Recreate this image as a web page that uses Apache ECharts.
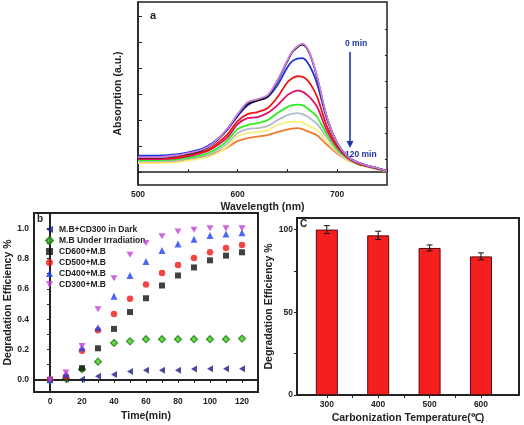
<!DOCTYPE html>
<html><head><meta charset="utf-8">
<script src="https://cdn.jsdelivr.net/npm/echarts@6/dist/echarts.min.js"></script>
<style>html,body{margin:0;padding:0;background:#fff}#c{width:524px;height:425px}</style>
</head><body><div id="c"></div>
<script>
// ---------- Panel a: absorption spectra ----------
const wavelengths = [500,520,540,560,570,580,590,600,610,620,630,640,650,655,660,665,670,675,680,690,700,710,720,730,740,750];
const spec0   = [0.115,0.115,0.131,0.162,0.192,0.254,0.338,0.446,0.538,0.562,0.592,0.708,0.862,0.931,0.969,0.990,0.954,0.862,0.731,0.415,0.223,0.123,0.077,0.050,0.031,0.008];
const spec15  = [0.112,0.112,0.128,0.158,0.188,0.248,0.332,0.440,0.525,0.550,0.580,0.700,0.855,0.925,0.962,0.982,0.948,0.856,0.725,0.412,0.222,0.122,0.077,0.050,0.031,0.008];
const spec30  = [0.127,0.127,0.138,0.169,0.200,0.254,0.331,0.431,0.515,0.554,0.577,0.669,0.808,0.854,0.873,0.877,0.846,0.777,0.677,0.400,0.223,0.123,0.077,0.050,0.031,0.008];
const spec45  = [0.108,0.108,0.115,0.146,0.169,0.223,0.292,0.392,0.446,0.462,0.492,0.577,0.692,0.723,0.738,0.735,0.708,0.654,0.577,0.346,0.200,0.115,0.069,0.046,0.027,0.008];
const spec60  = [0.100,0.100,0.108,0.138,0.162,0.208,0.269,0.369,0.415,0.423,0.454,0.515,0.592,0.615,0.627,0.619,0.592,0.554,0.500,0.315,0.192,0.112,0.069,0.046,0.027,0.008];
const spec75  = [0.092,0.092,0.100,0.123,0.146,0.185,0.246,0.331,0.362,0.377,0.400,0.454,0.500,0.515,0.519,0.515,0.492,0.462,0.423,0.285,0.177,0.108,0.065,0.046,0.027,0.008];
const spec90  = [0.085,0.085,0.092,0.115,0.131,0.169,0.223,0.300,0.331,0.338,0.354,0.400,0.438,0.450,0.454,0.446,0.427,0.400,0.369,0.262,0.162,0.100,0.062,0.042,0.023,0.008];
const spec105 = [0.069,0.069,0.077,0.100,0.115,0.146,0.200,0.277,0.300,0.308,0.323,0.362,0.385,0.388,0.388,0.381,0.362,0.342,0.323,0.231,0.154,0.092,0.058,0.038,0.023,0.004];
const spec120 = [0.077,0.077,0.085,0.108,0.123,0.154,0.192,0.238,0.262,0.273,0.285,0.308,0.327,0.335,0.338,0.331,0.315,0.300,0.281,0.208,0.142,0.092,0.062,0.042,0.023,0.004];
const specColors = ['#cc80e0','#111111','#2030dd','#ee1515','#e0106a','#33ee22','#b4bccc','#f4ee80','#f07a30'];
const specList = [spec0,spec15,spec30,spec45,spec60,spec75,spec90,spec105,spec120];
const absTicksMajor = [0,0.2,0.4,0.6,0.8,1.0,1.2];
const absTicksMinor = [0.1,0.3,0.5,0.7,0.9,1.1];

// ---------- Panel b: degradation kinetics ----------
const times = [0,10,20,30,40,50,60,70,80,90,100,110,120];
const darkCD300 = [0,0.004,0.004,0.024,0.035,0.055,0.064,0.064,0.064,0.071,0.073,0.073,0.073];
const mbIrr     = [0,0.008,0.07,0.12,0.243,0.254,0.268,0.268,0.268,0.268,0.268,0.268,0.272];
const cd600     = [0,0.015,0.077,0.208,0.336,0.447,0.538,0.622,0.688,0.741,0.788,0.819,0.841];
const cd500     = [0,0.022,0.192,0.327,0.434,0.535,0.628,0.704,0.757,0.803,0.841,0.869,0.889];
const cd400     = [0,0.038,0.212,0.343,0.551,0.688,0.781,0.852,0.896,0.927,0.951,0.962,0.969];
const cd300     = [0,0.049,0.223,0.465,0.670,0.825,0.903,0.947,0.978,0.989,1.0,1.0,1.0];
const kinNames = ['M.B+CD300 in Dark','M.B Under Irradiation','CD600+M.B','CD500+M.B','CD400+M.B','CD300+M.B'];
const bYLabels = [0,0.2,0.4,0.6,0.8,1.0];
const bYTicks = [0,0.1,0.2,0.3,0.4,0.5,0.6,0.7,0.8,0.9,1.0];

// ---------- Panel c: efficiency vs carbonization temperature ----------
const temps = [300,400,500,600];
const efficiency = [100,96.5,88.9,83.8];
const effErr = [2.4,2.5,1.8,2.1];
const cYLabels = [0,50,100];
const cYTicks = [0,25,50,75,100];
const cXTicks = [300,350,400,450,500,550,600];

const FONT = 'Liberation Sans';
const ink = '#222';

function specSeries(vals, color, z){
  return {type:'line', xAxisIndex:0, yAxisIndex:0, data: wavelengths.map((w,i)=>[w,vals[i]]),
    smooth:0.35, showSymbol:false, lineStyle:{color:color,width:1.8}, z:z, silent:true};
}
const specOrder = [8,7,6,5,4,3,2,1,0];
const seriesA = specOrder.map((k,j)=>specSeries(specList[k], specColors[k], 2+j));

const kinData = [darkCD300,mbIrr,cd600,cd500,cd400,cd300];
const kinStyle = [
  {symbol:'path://M10,0 L10,10 L0,5 Z', color:'#1c1c8a', size:[6,7]},
  {symbol:'diamond', color:'#44cc22', border:'#1f7a10', size:7},
  {symbol:'rect', color:'#111', size:6},
  {symbol:'circle', color:'#f01818', size:6.5},
  {symbol:'triangle', color:'#2244ee', size:7},
  {symbol:'path://M0,0 L10,0 L5,10 Z', color:'#c040d8', size:[7,6]}
];
const seriesB = kinData.map((d,i)=>({
  type:'scatter', name:kinNames[i], xAxisIndex:1, yAxisIndex:2,
  data: times.map((t,j)=>[t,d[j]]),
  symbol:kinStyle[i].symbol, symbolSize:kinStyle[i].size,
  itemStyle:{color:kinStyle[i].color, borderColor:kinStyle[i].border||kinStyle[i].color, borderWidth:kinStyle[i].border?1.2:0},
  z:10+i
}));

const seriesC = [
  {type:'bar', xAxisIndex:2, yAxisIndex:3, data: temps.map((t,i)=>[t,efficiency[i]]), barWidth:22,
    itemStyle:{color:'#f42020', borderColor:'#5a0a0a', borderWidth:1}, z:5},
  {type:'custom', xAxisIndex:2, yAxisIndex:3, data: temps.map((t,i)=>[t,efficiency[i],effErr[i]]), z:8,
    renderItem:function(params, api){
      const x=api.value(0), y=api.value(1), e=api.value(2);
      const top=api.coord([x,y+e]), bot=api.coord([x,y-e]);
      const st={stroke:'#111', lineWidth:1};
      return {type:'group', children:[
        {type:'line', shape:{x1:top[0],y1:top[1],x2:bot[0],y2:bot[1]}, style:st},
        {type:'line', shape:{x1:top[0]-3,y1:top[1],x2:top[0]+3,y2:top[1]}, style:st},
        {type:'line', shape:{x1:bot[0]-3,y1:bot[1],x2:bot[0]+3,y2:bot[1]}, style:st}
      ]};
    }}
];

const lbl = {fontFamily:FONT, fontWeight:'bold', fontSize:8.5, color:ink};
const nm = {fontFamily:FONT, fontWeight:'bold', fontSize:10.5, color:ink};

const option = {
  animation:false,
  textStyle:{fontFamily:FONT},
  grid:[
    {left:138, right:137, top:2, bottom:240, show:true, borderColor:ink, borderWidth:1.5},
    {left:34, right:266, top:213, bottom:33, show:true, borderColor:ink, borderWidth:2},
    {left:297, right:5, top:218, bottom:29, show:true, borderColor:ink, borderWidth:2}
  ],
  xAxis:[
    {gridIndex:0, type:'value', min:500, max:750, interval:50,
      axisLine:{lineStyle:{color:ink,width:1.5}}, axisTick:{inside:true,length:3,lineStyle:{color:ink}},
      axisLabel:Object.assign({formatter:v=>(v%100===0?String(v):''), margin:5}, lbl), splitLine:{show:false},
      name:'Wavelength (nm)', nameLocation:'middle', nameGap:17, nameTextStyle:nm},
    {gridIndex:1, type:'value', min:-10, max:130, interval:10,
      axisLine:{lineStyle:{color:ink,width:2}}, axisTick:{length:3,lineStyle:{color:ink}},
      axisLabel:Object.assign({formatter:v=>(v>=0&&v<=120&&v%20===0?String(v):''), margin:5, showMinLabel:true, showMaxLabel:true}, lbl), splitLine:{show:false},
      name:'Time(min)', nameLocation:'middle', nameGap:19, nameTextStyle:nm},
    {gridIndex:2, type:'value', min:242, max:674,
      axisLine:{lineStyle:{color:ink,width:2}}, axisTick:{length:3,customValues:cXTicks,lineStyle:{color:ink}},
      axisLabel:Object.assign({customValues:temps, margin:5}, lbl), splitLine:{show:false},
      name:'Carbonization Temperature(\u2103)', nameLocation:'middle', nameGap:18, nameTextStyle:nm}
  ],
  yAxis:[
    {gridIndex:0, type:'value', min:-0.1, max:1.31,
      axisLine:{lineStyle:{color:ink,width:1.5}}, axisTick:{inside:true,length:4,customValues:absTicksMajor,lineStyle:{color:ink}},
      axisLabel:{show:false}, splitLine:{show:false},
      name:'Absorption (a.u.)', nameLocation:'middle', nameGap:14, nameTextStyle:nm},
    {gridIndex:0, type:'value', min:-0.1, max:1.31,
      axisLine:{show:false}, axisTick:{inside:true,length:2,customValues:absTicksMinor,lineStyle:{color:ink}},
      axisLabel:{show:false}, splitLine:{show:false}},
    {gridIndex:1, type:'value', min:-0.08, max:1.1,
      axisLine:{lineStyle:{color:ink,width:2}}, axisTick:{length:3,customValues:bYTicks,lineStyle:{color:ink}},
      axisLabel:Object.assign({customValues:bYLabels, formatter:v=>v.toFixed(1), margin:5}, lbl), splitLine:{show:false},
      name:'Degradation Efficiency %', nameLocation:'middle', nameGap:20, nameTextStyle:nm},
    {gridIndex:2, type:'value', min:0, max:107,
      axisLine:{lineStyle:{color:ink,width:2}}, axisTick:{length:3,customValues:cYTicks,lineStyle:{color:ink}},
      axisLabel:Object.assign({customValues:cYLabels, margin:4}, lbl), splitLine:{show:false},
      name:'Degradation Efficiency %', nameLocation:'middle', nameGap:20, nameTextStyle:nm}
  ],
  legend:{show:true, orient:'vertical', left:45, top:225, itemGap:2, itemWidth:7, itemHeight:7,
    data:kinNames.map((n,i)=>({name:n, icon:kinStyle[i].symbol})),
    textStyle:{fontFamily:FONT, fontWeight:'bold', fontSize:8.5, color:ink, padding:[0,0,0,1]}, padding:0},
  graphic:[
    {type:'text', left:37, top:214, style:{text:'b', font:'bold 10px "Liberation Sans"', fill:ink}},
    {type:'text', left:150, top:10, style:{text:'a', font:'bold 11px "Liberation Sans"', fill:ink}},
    {type:'text', left:300, top:219, style:{text:'C', font:'bold 10px "Liberation Sans"', fill:ink}},
    {type:'text', left:345, top:39, style:{text:'0 min', font:'bold 8.5px "Liberation Sans"', fill:'#1f35a8'}},
    {type:'text', left:345, top:150, style:{text:'120 min', font:'bold 8.5px "Liberation Sans"', fill:'#1f35a8'}},
    {type:'line', shape:{x1:350,y1:52,x2:350,y2:142}, style:{stroke:'#1f35a8', lineWidth:1.6}},
    {type:'polygon', shape:{points:[[346.5,141],[353.5,141],[350,148]]}, style:{fill:'#1f35a8'}}
  ],
  series: seriesA.concat(seriesB, seriesC)
};
const chart = echarts.init(document.getElementById('c'), null, {renderer:'canvas'});
chart.setOption(option);
</script></body></html>
